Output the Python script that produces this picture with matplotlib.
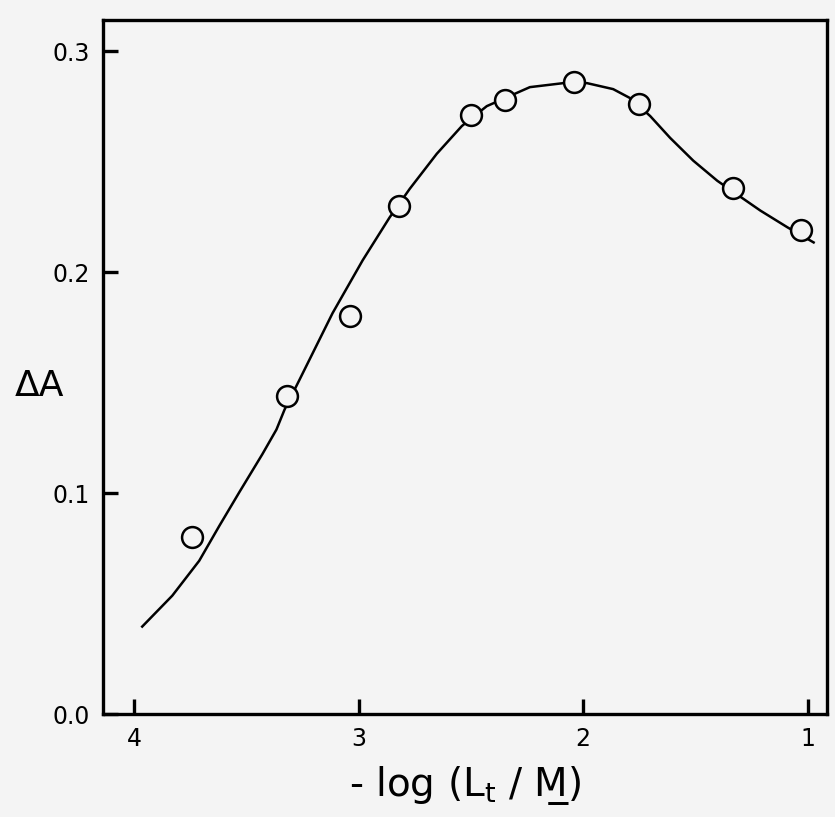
import matplotlib.pyplot as plt

# measured points
x_pts = [3.74, 3.32, 3.04, 2.82, 2.50, 2.35, 2.04, 1.75, 1.33, 1.03]
y_pts = [0.080, 0.144, 0.180, 0.230, 0.271, 0.278, 0.286, 0.276, 0.238, 0.219]

# fitted curve
x_fit = [3.964, 3.830, 3.710, 3.621, 3.531, 3.429, 3.366, 3.330, 3.263,
         3.116, 2.982, 2.862, 2.772, 2.652, 2.540, 2.429, 2.237, 2.089,
         1.982, 1.866, 1.790, 1.701, 1.612, 1.509, 1.402, 1.210, 1.089, 0.973]
y_fit = [0.0396, 0.0536, 0.0694, 0.0851, 0.1005, 0.1176, 0.1288, 0.1378, 0.1514,
         0.1815, 0.2054, 0.2248, 0.2378, 0.2536, 0.2662, 0.2752, 0.2838, 0.2856,
         0.2856, 0.2829, 0.2788, 0.2707, 0.2608, 0.2505, 0.2414, 0.2279, 0.2203, 0.2135]

x_ticks = [4, 3, 2, 1]
y_ticks = [0.0, 0.1, 0.2, 0.3]

bg = '#f4f4f4'
fig = plt.figure(figsize=(8.35, 8.17), dpi=100, facecolor=bg)
ax = fig.add_axes([0.123, 0.126, 0.867, 0.849])
ax.set_facecolor(bg)

ax.plot(x_fit, y_fit, color='black', lw=1.8, solid_joinstyle='round')
ax.plot(x_pts, y_pts, 'o', ms=15, mfc=bg, mec='black', mew=1.8)

ax.set_xlim(4.14, 0.915)
ax.set_ylim(0, 0.314)
ax.set_xticks(x_ticks)
ax.set_xticklabels([str(t) for t in x_ticks])
ax.set_yticks(y_ticks)
ax.set_yticklabels([f"{t:.1f}" for t in y_ticks])

for s in ax.spines.values():
    s.set_linewidth(2.4)
ax.tick_params(direction='in', length=11, width=2.4, labelsize=17, pad=9)

fig.text(0.047, 0.528, 'ΔA', fontsize=26, ha='center', va='center')
ax.set_xlabel('- log (L$_{\\mathrm{t}}$ / M\u0332)', fontsize=28, labelpad=10)

fig.savefig('out.png', dpi=100, facecolor=fig.get_facecolor())
